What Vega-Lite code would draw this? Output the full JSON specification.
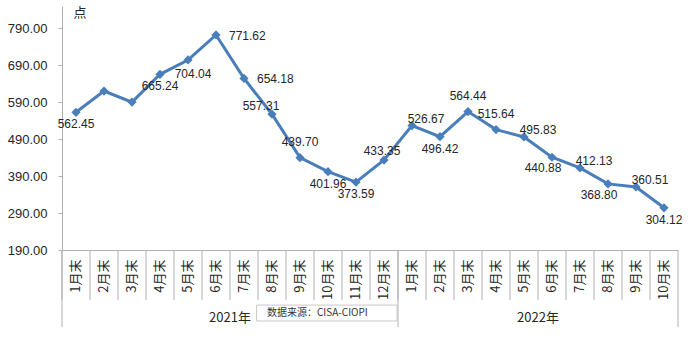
{
  "$schema": "https://vega.github.io/schema/vega-lite/v6.json",
  "width": 616,
  "height": 244,
  "autosize": "none",
  "padding": {"left": 62, "top": 6, "right": 13, "bottom": 89},
  "background": "white",
  "config": {"view": {"stroke": null}, "font": "Liberation Sans"},
  "resolve": {"axis": {"x": "independent", "y": "independent"}},
  "data": {"values": [
    {"key": "2021-01", "year": "2021年", "value": 562.45},
    {"key": "2021-02", "year": "2021年", "value": 620},
    {"key": "2021-03", "year": "2021年", "value": 590},
    {"key": "2021-04", "year": "2021年", "value": 665.24},
    {"key": "2021-05", "year": "2021年", "value": 704.04},
    {"key": "2021-06", "year": "2021年", "value": 771.62},
    {"key": "2021-07", "year": "2021年", "value": 654.18},
    {"key": "2021-08", "year": "2021年", "value": 557.31},
    {"key": "2021-09", "year": "2021年", "value": 439.70},
    {"key": "2021-10", "year": "2021年", "value": 401.96},
    {"key": "2021-11", "year": "2021年", "value": 373.59},
    {"key": "2021-12", "year": "2021年", "value": 433.35},
    {"key": "2022-01", "year": "2022年", "value": 526.67},
    {"key": "2022-02", "year": "2022年", "value": 496.42},
    {"key": "2022-03", "year": "2022年", "value": 564.44},
    {"key": "2022-04", "year": "2022年", "value": 515.64},
    {"key": "2022-05", "year": "2022年", "value": 495.83},
    {"key": "2022-06", "year": "2022年", "value": 440.88},
    {"key": "2022-07", "year": "2022年", "value": 412.13},
    {"key": "2022-08", "year": "2022年", "value": 368.80},
    {"key": "2022-09", "year": "2022年", "value": 360.51},
    {"key": "2022-10", "year": "2022年", "value": 304.12}
  ]},
  "layer": [
    {
      "mark": {"type": "line", "color": "#4A7EBB", "strokeWidth": 3},
      "encoding": {
        "x": {
          "field": "key", "type": "ordinal", "bandPosition": 0.5,
          "scale": {"type": "band", "paddingInner": 0, "paddingOuter": 0},
          "axis": {
            "orient": "bottom",
            "title": null,
            "labelExpr": "toNumber(slice(datum.value, 5)) + '月末'",
            "labelAngle": -90,
            "labelFont": "Noto Sans CJK SC",
            "labelFontSize": 13,
            "labelColor": "#262626",
            "labelOverlap": false,
            "ticks": false,
            "tickSize": 0,
            "domainColor": "#B0B0B0",
            "labelPadding": 9
          }
        },
        "y": {
          "field": "value", "type": "quantitative",
          "scale": {"domain": [190, 850], "nice": false, "zero": false},
          "axis": {
            "orient": "left",
            "values": [190, 290, 390, 490, 590, 690, 790],
            "format": ".2f",
            "grid": false,
            "title": null,
            "labelFontSize": 13,
            "labelColor": "#262626",
            "labelPadding": 11,
            "tickSize": 4,
            "tickColor": "#B0B0B0",
            "domainColor": "#B0B0B0"
          }
        }
      }
    },
    {
      "mark": {"type": "point", "shape": "diamond", "filled": true, "color": "#4A7EBB", "size": 85, "opacity": 1},
      "encoding": {
        "x": {"field": "key", "type": "ordinal", "bandPosition": 0.5, "axis": null},
        "y": {"field": "value", "type": "quantitative", "axis": null}
      }
    },
    {
      "mark": {"type": "rule", "color": "#B0B0B0", "strokeWidth": 1},
      "encoding": {
        "x": {"field": "key", "type": "ordinal", "bandPosition": 0, "axis": null},
        "y": {"datum": 190, "axis": null},
        "y2": {"datum": 55}
      }
    },
    {
      "transform": [{"filter": {"field": "key", "oneOf": ["2021-01", "2022-01"]}}],
      "mark": {"type": "rule", "color": "#B0B0B0", "strokeWidth": 1},
      "encoding": {
        "x": {"field": "key", "type": "ordinal", "bandPosition": 0, "axis": null},
        "y": {"datum": 190, "axis": null},
        "y2": {"datum": -18}
      }
    },
    {
      "transform": [{"filter": {"field": "key", "oneOf": ["2022-10"]}}],
      "mark": {"type": "rule", "color": "#B0B0B0", "strokeWidth": 1},
      "encoding": {
        "x": {"field": "key", "type": "ordinal", "bandPosition": 1, "axis": null},
        "y": {"datum": 190, "axis": null},
        "y2": {"datum": -18}
      }
    },
    {
      "transform": [{"filter": {"field": "key", "oneOf": ["2021-06", "2022-05"]}}],
      "mark": {"type": "text", "font": "Noto Sans CJK SC", "fontSize": 13, "color": "#262626", "baseline": "middle"},
      "encoding": {
        "x": {"field": "key", "type": "ordinal", "bandPosition": 1, "axis": null},
        "y": {"datum": 6, "axis": null},
        "text": {"field": "year"}
      }
    },
    {
      "transform": [{"filter": {"field": "key", "oneOf": ["2021-01", "2021-04", "2021-10", "2021-11", "2022-02", "2022-10"]}}],
      "mark": {"type": "text", "fontSize": 12, "color": "#262626", "dy": 12},
      "encoding": {
        "x": {"field": "key", "type": "ordinal", "bandPosition": 0.5, "axis": null},
        "y": {"field": "value", "type": "quantitative", "axis": null},
        "text": {"field": "value", "type": "quantitative", "format": ".2f"}
      }
    },
    {
      "transform": [{"filter": {"field": "key", "oneOf": ["2021-05"]}}],
      "mark": {"type": "text", "fontSize": 12, "color": "#262626", "dx": 5, "dy": 14},
      "encoding": {
        "x": {"field": "key", "type": "ordinal", "bandPosition": 0.5, "axis": null},
        "y": {"field": "value", "type": "quantitative", "axis": null},
        "text": {"field": "value", "type": "quantitative", "format": ".2f"}
      }
    },
    {
      "transform": [{"filter": {"field": "key", "oneOf": ["2021-06", "2021-07"]}}],
      "mark": {"type": "text", "fontSize": 12, "color": "#262626", "align": "left", "dx": 13, "dy": 1},
      "encoding": {
        "x": {"field": "key", "type": "ordinal", "bandPosition": 0.5, "axis": null},
        "y": {"field": "value", "type": "quantitative", "axis": null},
        "text": {"field": "value", "type": "quantitative", "format": ".2f"}
      }
    },
    {
      "transform": [{"filter": {"field": "key", "oneOf": ["2021-08"]}}],
      "mark": {"type": "text", "fontSize": 12, "color": "#262626", "dx": -11, "dy": -8},
      "encoding": {
        "x": {"field": "key", "type": "ordinal", "bandPosition": 0.5, "axis": null},
        "y": {"field": "value", "type": "quantitative", "axis": null},
        "text": {"field": "value", "type": "quantitative", "format": ".2f"}
      }
    },
    {
      "transform": [{"filter": {"field": "key", "oneOf": ["2021-09", "2022-03", "2022-04"]}}],
      "mark": {"type": "text", "fontSize": 12, "color": "#262626", "dy": -16},
      "encoding": {
        "x": {"field": "key", "type": "ordinal", "bandPosition": 0.5, "axis": null},
        "y": {"field": "value", "type": "quantitative", "axis": null},
        "text": {"field": "value", "type": "quantitative", "format": ".2f"}
      }
    },
    {
      "transform": [{"filter": {"field": "key", "oneOf": ["2021-12"]}}],
      "mark": {"type": "text", "fontSize": 12, "color": "#262626", "dx": -2, "dy": -9},
      "encoding": {
        "x": {"field": "key", "type": "ordinal", "bandPosition": 0.5, "axis": null},
        "y": {"field": "value", "type": "quantitative", "axis": null},
        "text": {"field": "value", "type": "quantitative", "format": ".2f"}
      }
    },
    {
      "transform": [{"filter": {"field": "key", "oneOf": ["2022-01", "2022-05", "2022-07", "2022-09"]}}],
      "mark": {"type": "text", "fontSize": 12, "color": "#262626", "dx": 14, "dy": -7},
      "encoding": {
        "x": {"field": "key", "type": "ordinal", "bandPosition": 0.5, "axis": null},
        "y": {"field": "value", "type": "quantitative", "axis": null},
        "text": {"field": "value", "type": "quantitative", "format": ".2f"}
      }
    },
    {
      "transform": [{"filter": {"field": "key", "oneOf": ["2022-06", "2022-08"]}}],
      "mark": {"type": "text", "fontSize": 12, "color": "#262626", "dx": -9, "dy": 11},
      "encoding": {
        "x": {"field": "key", "type": "ordinal", "bandPosition": 0.5, "axis": null},
        "y": {"field": "value", "type": "quantitative", "axis": null},
        "text": {"field": "value", "type": "quantitative", "format": ".2f"}
      }
    },
    {
      "data": {"values": [{"unit": "点"}]},
      "mark": {"type": "text", "font": "Noto Sans CJK SC", "fontSize": 13, "color": "#262626", "baseline": "middle", "dx": 4},
      "encoding": {
        "x": {"datum": "2021-01", "type": "ordinal", "bandPosition": 0.5, "axis": null},
        "y": {"datum": 831, "axis": null},
        "text": {"field": "unit"}
      }
    },
    {
      "data": {"values": [{"src": "数据来源：CISA-CIOPI"}]},
      "mark": {"type": "rect", "fill": "white", "stroke": "#C8C8C8", "strokeWidth": 1, "x2Offset": -15},
      "encoding": {
        "x": {"datum": "2021-07", "type": "ordinal", "bandPosition": 0.95, "axis": null},
        "x2": {"datum": "2022-01"},
        "y": {"datum": 41, "axis": null},
        "y2": {"datum": -2}
      }
    },
    {
      "data": {"values": [{"src": "数据来源：CISA-CIOPI"}]},
      "mark": {"type": "text", "font": "Noto Sans CJK SC", "fontSize": 10, "color": "#333333", "align": "left", "baseline": "middle"},
      "encoding": {
        "x": {"datum": "2021-08", "type": "ordinal", "bandPosition": 0.32, "axis": null},
        "y": {"datum": 20, "axis": null},
        "text": {"field": "src"}
      }
    }
  ]
}
